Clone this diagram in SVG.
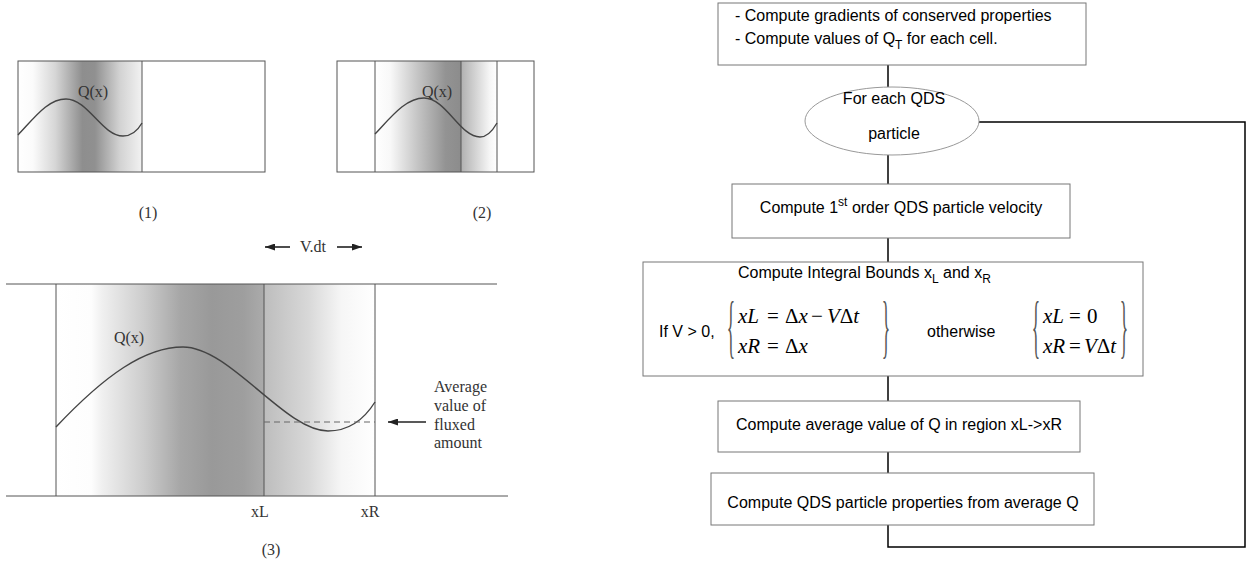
<svg xmlns="http://www.w3.org/2000/svg" width="1250" height="567" viewBox="0 0 1250 567">
<style>
.ln{stroke:#555;stroke-width:1;fill:none}
.cv{stroke:#444;stroke-width:1.4;fill:none}
.ser{font-family:"Liberation Serif","Times New Roman",serif;fill:#333;font-size:16px}
.sans{font-family:"Liberation Sans",Arial,sans-serif;fill:#000;font-size:16px}
.box{fill:#fff;stroke:#777;stroke-width:1}
.con{stroke:#000;stroke-width:1.5;fill:none}
.math{font-family:"Liberation Serif","Times New Roman",serif;font-size:21px;fill:#000}
.it{font-style:italic}
.brace{font-family:"Liberation Serif","Times New Roman",serif;font-size:70px;fill:#555;text-anchor:middle}
.arr{stroke:#222;stroke-width:1.6;fill:none;marker-end:url(#ah)}
</style>
<defs>
<linearGradient id="g1" x1="0" x2="1" y1="0" y2="0">
<stop offset="0" stop-color="#fff"/><stop offset="0.12" stop-color="#fbfbfb"/><stop offset="0.3" stop-color="#d6d6d6"/><stop offset="0.52" stop-color="#8e8e8e"/><stop offset="0.62" stop-color="#909090"/><stop offset="0.82" stop-color="#d2d2d2"/><stop offset="1" stop-color="#f2f2f2"/>
</linearGradient>
<linearGradient id="g2a" x1="0" x2="1" y1="0" y2="0">
<stop offset="0" stop-color="#fff"/><stop offset="0.18" stop-color="#f8f8f8"/><stop offset="0.5" stop-color="#c4c4c4"/><stop offset="0.82" stop-color="#939393"/><stop offset="1" stop-color="#8c8c8c"/>
</linearGradient>
<linearGradient id="g2b" x1="0" x2="1" y1="0" y2="0">
<stop offset="0" stop-color="#b0b0b0"/><stop offset="0.8" stop-color="#f6f6f6"/><stop offset="1" stop-color="#fff"/>
</linearGradient>
<linearGradient id="g3a" x1="0" x2="1" y1="0" y2="0">
<stop offset="0" stop-color="#fff"/><stop offset="0.17" stop-color="#fdfdfd"/><stop offset="0.22" stop-color="#f0f0f0"/><stop offset="0.42" stop-color="#cdcdcd"/><stop offset="0.6" stop-color="#a6a6a6"/><stop offset="0.75" stop-color="#999"/><stop offset="0.9" stop-color="#9e9e9e"/><stop offset="1" stop-color="#ababab"/>
</linearGradient>
<linearGradient id="g3b" x1="0" x2="1" y1="0" y2="0">
<stop offset="0" stop-color="#bdbdbd"/><stop offset="0.4" stop-color="#d8d8d8"/><stop offset="0.7" stop-color="#f6f6f6"/><stop offset="1" stop-color="#fff"/>
</linearGradient>
<marker id="ah" viewBox="0 0 10 7" refX="10" refY="3.5" markerWidth="10" markerHeight="7" orient="auto" markerUnits="userSpaceOnUse">
<path d="M0,0 L10,3.5 L0,7 z" fill="#222"/>
</marker>
</defs>

<g id="panel1">
<rect x="18" y="61" width="124" height="111" fill="url(#g1)"/>
<rect class="ln" x="18" y="61" width="247" height="111"/>
<line class="ln" x1="142" y1="61" x2="142" y2="172"/>
<path class="cv" d="M18,135 C35,117 48,99 66,99 C88,99 102,136 123,136 C132,136 138,130 142,123"/>
<text class="ser" x="93" y="97" text-anchor="middle">Q(x)</text>
<text class="ser" x="148" y="218" text-anchor="middle">(1)</text>
</g>

<g id="panel2">
<rect x="375" y="61" width="86" height="111" fill="url(#g2a)"/>
<rect x="461" y="61" width="36" height="111" fill="url(#g2b)"/>
<rect class="ln" x="337" y="61" width="197" height="111"/>
<line class="ln" x1="375" y1="61" x2="375" y2="172"/>
<line class="ln" x1="461" y1="61" x2="461" y2="172"/>
<line class="ln" x1="497" y1="61" x2="497" y2="172"/>
<path class="cv" d="M375,134 C392,116 406,98 424,98 C446,98 460,137 480,137 C488,137 493,130 497,123"/>
<text class="ser" x="437" y="97" text-anchor="middle">Q(x)</text>
<text class="ser" x="482" y="218" text-anchor="middle">(2)</text>
</g>

<g id="panel3">
<line class="arr" x1="290" y1="247" x2="265" y2="247"/>
<text class="ser" x="313" y="252" text-anchor="middle">V.dt</text>
<line class="arr" x1="337" y1="247" x2="362" y2="247"/>
<rect x="56" y="284" width="208" height="212" fill="url(#g3a)"/>
<rect x="264" y="284" width="111" height="212" fill="url(#g3b)"/>
<line class="ln" x1="6" y1="284" x2="497" y2="284"/>
<line class="ln" x1="6" y1="496" x2="508" y2="496"/>
<line class="ln" x1="56" y1="284" x2="56" y2="496"/>
<line class="ln" x1="264" y1="284" x2="264" y2="496"/>
<line class="ln" x1="375" y1="284" x2="375" y2="496"/>
<path class="cv" d="M56,427 C105,375 145,347 183,347 C230,347 285,431 328,431 C350,431 365,418 375,402"/>
<line x1="264" y1="422" x2="375" y2="422" stroke="#666" stroke-width="1.2" stroke-dasharray="6,4"/>
<line class="arr" x1="426" y1="422" x2="388" y2="422"/>
<text class="ser" x="129" y="343" text-anchor="middle">Q(x)</text>
<text class="ser" x="434" y="392">Average</text>
<text class="ser" x="434" y="411">value of</text>
<text class="ser" x="434" y="430">fluxed</text>
<text class="ser" x="434" y="448">amount</text>
<text class="ser" x="260" y="517" text-anchor="middle">xL</text>
<text class="ser" x="370" y="517" text-anchor="middle">xR</text>
<text class="ser" x="271" y="555" text-anchor="middle">(3)</text>
</g>

<g id="connectors">
<line class="con" x1="888" y1="65" x2="888" y2="87"/>
<line class="con" x1="888" y1="155" x2="888" y2="184"/>
<line class="con" x1="888" y1="238" x2="888" y2="262"/>
<line class="con" x1="888" y1="376" x2="888" y2="401"/>
<line class="con" x1="888" y1="452" x2="888" y2="473"/>
<polyline class="con" points="888,525 888,547 1245,547 1245,122 979,122"/>
</g>

<g id="n-gradients">
<rect class="box" x="718" y="3" width="368" height="62"/>
<text class="sans" x="735" y="21">- Compute gradients of conserved properties</text>
<text class="sans" x="735" y="44">- Compute values of Q<tspan font-size="12" dy="5">T</tspan><tspan dy="-5"> for each cell.</tspan></text>
</g>

<g id="n-foreach">
<ellipse cx="892" cy="121" rx="87" ry="34" fill="#fff" stroke="#999" stroke-width="1"/>
<text class="sans" x="894" y="104" text-anchor="middle">For each QDS</text>
<text class="sans" x="894" y="139" text-anchor="middle">particle</text>
</g>

<g id="n-velocity">
<rect class="box" x="732" y="184" width="338" height="54"/>
<text class="sans" x="901" y="213" text-anchor="middle">Compute 1<tspan font-size="12" dy="-7">st</tspan><tspan dy="7"> order QDS particle velocity</tspan></text>
</g>

<g id="n-bounds">
<rect class="box" x="643" y="262" width="500" height="114"/>
<text class="sans" x="738" y="278">Compute Integral Bounds x<tspan font-size="12" dy="5">L</tspan><tspan dy="-5"> and x</tspan><tspan font-size="12" dy="5">R</tspan></text>
<text class="sans" x="659" y="337">If V &gt; 0,</text>
<text class="brace" transform="translate(731,350) scale(0.25,1)">{</text>
<text class="math" y="323"><tspan class="it" x="738">xL</tspan><tspan x="767">=</tspan><tspan x="785">Δ</tspan><tspan class="it">x</tspan><tspan x="811">−</tspan><tspan class="it" x="827">V</tspan><tspan>Δ</tspan><tspan class="it">t</tspan></text>
<text class="math" y="353"><tspan class="it" x="738">xR</tspan><tspan x="767">=</tspan><tspan x="785">Δ</tspan><tspan class="it">x</tspan></text>
<text class="brace" transform="translate(886,350) scale(0.25,1)">}</text>
<text class="sans" x="927" y="337">otherwise</text>
<text class="brace" transform="translate(1036,350) scale(0.25,1)">{</text>
<text class="math" y="323"><tspan class="it" x="1043">xL</tspan><tspan x="1069">=</tspan><tspan x="1087">0</tspan></text>
<text class="math" y="353"><tspan class="it" x="1043">xR</tspan><tspan x="1069">=</tspan><tspan class="it" x="1084">V</tspan><tspan>Δ</tspan><tspan class="it">t</tspan></text>
<text class="brace" transform="translate(1124,350) scale(0.25,1)">}</text>
</g>

<g id="n-average">
<rect class="box" x="718" y="401" width="362" height="51"/>
<text class="sans" x="899" y="430" text-anchor="middle">Compute average value of Q in region xL-&gt;xR</text>
</g>

<g id="n-properties">
<rect class="box" x="711" y="473" width="383" height="52"/>
<text class="sans" x="903" y="508" text-anchor="middle">Compute QDS particle properties from average Q</text>
</g>
</svg>
